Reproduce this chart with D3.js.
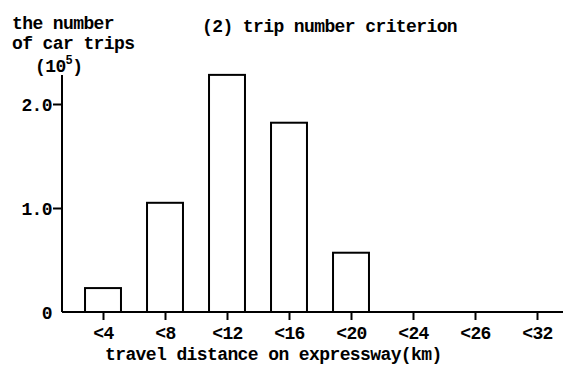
<!DOCTYPE html>
<html lang="en">
  <head>
    <meta charset='utf-8'>
    <script src='https://d3js.org/d3.v7.min.js'></script>
    <title>trip number criterion</title>
    <style>
      body {
        margin: 0px;
        background: #fff;
      }
      text {
        font-family: 'Liberation Mono', 'DejaVu Sans Mono', monospace;
        font-weight: bold;
        font-size: 18px;
        letter-spacing: -0.6px;
        fill: #000;
      }
      .domain {
        display: none;
      }
      .tick line {
        stroke: #000;
        stroke-width: 2;
      }
    </style>
  </head>
  <body>
    <div id='chart'></div>
    <script>
      // distance classes and trip counts (x 10^5)
      const classes = ['<4', '<8', '<12', '<16', '<20', '<24', '<26', '<32'];
      const trips = [0.23, 1.05, 2.28, 1.82, 0.57, 0, 0, 0];
      const yTicks = [0, 1.0, 2.0];

      const width = 564;
      const height = 366;

      const svg = d3.select('#chart')
        .append('svg')
          .attr('width', width)
          .attr('height', height);

      //scales in page coordinates
      const xScale = d3.scalePoint()
        .domain(classes)
        .range([103, 537]);

      const yScale = d3.scaleLinear()
        .domain([0, 2.0])
        .range([312, 104]);

      const barWidth = xScale.step() * 0.58;

      //bars
      svg.selectAll('rect')
        .data(classes.map((c, i) => ({ c: c, v: trips[i] })).filter(d => d.v > 0))
        .enter().append('rect')
          .attr('x', d => xScale(d.c) - barWidth / 2)
          .attr('y', d => yScale(d.v))
          .attr('width', barWidth)
          .attr('height', d => yScale(0) - yScale(d.v))
          .attr('fill', '#fff')
          .attr('stroke', '#000')
          .attr('stroke-width', 2);

      //axes
      const xAxisG = svg.append('g')
        .attr('transform', `translate(0, ${yScale(0)})`)
        .call(d3.axisBottom(xScale).tickSize(8).tickSizeOuter(0));
      xAxisG.selectAll('.tick text')
        .attr('y', 27)
        .attr('dy', 0);

      const yAxisG = svg.append('g')
        .attr('transform', 'translate(62, 0)')
        .call(d3.axisLeft(yScale)
          .tickValues(yTicks)
          .tickSize(9)
          .tickPadding(1)
          .tickFormat(d => d === 0 ? '0' : d3.format('.1f')(d)));
      yAxisG.selectAll('.tick text')
        .attr('dy', '0.36em');
      yAxisG.selectAll('.tick')
        .filter(d => d === 0)
        .select('line')
          .remove();

      //axis lines
      svg.append('line')
        .attr('x1', 62).attr('x2', 563)
        .attr('y1', yScale(0)).attr('y2', yScale(0))
        .attr('stroke', '#000').attr('stroke-width', 2);
      svg.append('line')
        .attr('x1', 62).attr('x2', 62)
        .attr('y1', 75).attr('y2', yScale(0))
        .attr('stroke', '#000').attr('stroke-width', 2);

      //labels
      svg.append('text').attr('x', 12).attr('y', 29).text('the number');
      svg.append('text').attr('x', 12).attr('y', 49).text('of car trips');
      const unit = svg.append('text').attr('x', 35).attr('y', 72);
      unit.append('tspan').text('(10');
      unit.append('tspan').attr('dy', -8).style('font-size', '12px').text('5');
      unit.append('tspan').attr('dy', 8).text(')');

      svg.append('text')
        .attr('x', 202)
        .attr('y', 32)
        .text('(2) trip number criterion');

      svg.append('text')
        .attr('x', 105)
        .attr('y', 360)
        .text('travel distance on expressway(km)');
    </script>
  </body>
</html>
